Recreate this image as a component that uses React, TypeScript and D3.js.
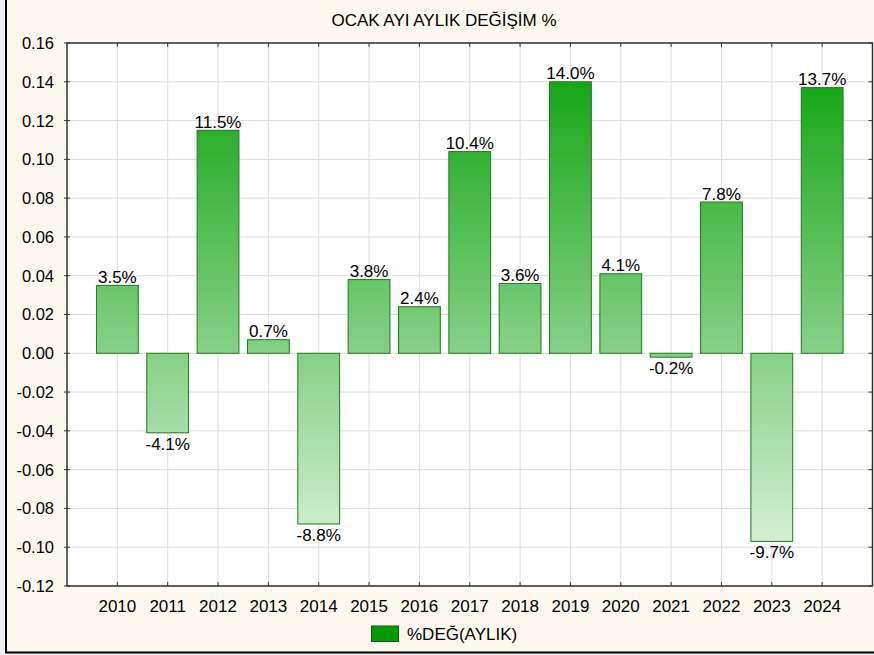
import * as d3 from 'd3';
import React from 'react';

const years = [2010, 2011, 2012, 2013, 2014, 2015, 2016, 2017, 2018, 2019, 2020, 2021, 2022, 2023, 2024];
const changes = [0.035, -0.041, 0.115, 0.007, -0.088, 0.038, 0.024, 0.104, 0.036, 0.140, 0.041, -0.002, 0.078, -0.097, 0.137];
const yTicks = [0.16, 0.14, 0.12, 0.10, 0.08, 0.06, 0.04, 0.02, 0.00, -0.02, -0.04, -0.06, -0.08, -0.10, -0.12];
const title = 'OCAK AYI AYLIK DEĞİŞİM %';
const seriesName = '%DEĞ(AYLIK)';

const W = 874;
const H = 655;
const margin = { top: 43, right: 1.5, bottom: 69, left: 67 };
const font = '"Liberation Sans", Arial, sans-serif';

export default function App() {
  const x = d3.scaleLinear().domain([2009, 2025]).range([margin.left, W - margin.right]);
  const y = d3.scaleLinear().domain([-0.12, 0.16]).range([H - margin.bottom, margin.top]);
  const barW = (x(1) - x(0)) * 0.83;
  const fmtY = (v: number) => d3.format('.2f')(v).replace('−', '-');
  const fmtP = (v: number) => (v * 100).toFixed(1) + '%';
  const x0 = x.range()[0], x1 = x.range()[1];
  const yTop = y(0.16), yBot = y(-0.12);

  return (
    <svg width={W} height={H} style={{ position: 'absolute', left: 0, top: 0 }} fontFamily={font}>
      <defs>
        <linearGradient id="barGrad" gradientUnits="userSpaceOnUse" x1="0" y1={yTop} x2="0" y2={yBot}>
          <stop offset="0" stopColor="#07a007" />
          <stop offset="1" stopColor="#e6f6e6" />
        </linearGradient>
      </defs>
      <rect x={0} y={0} width={W} height={H} fill="#f0f0f0" />
      <rect x={6} y={-5} width={W + 10} height={H - 2 + 5 - 0.5} fill="#fef9ee" stroke="#000" strokeWidth={2} />
      <text x={444} y={26} textAnchor="middle" fontSize={17} fill="#000">{title}</text>

      <rect x={x0} y={yTop} width={x1 - x0} height={yBot - yTop} fill="#fff" />
      {yTicks.map(t => (
        <line key={'gy' + t} x1={x0} x2={x1} y1={y(t)} y2={y(t)} stroke="#dcdcdc" strokeWidth={1} />
      ))}
      {years.map(yr => (
        <line key={'gx' + yr} x1={x(yr)} x2={x(yr)} y1={yTop} y2={yBot} stroke="#dcdcdc" strokeWidth={1} />
      ))}

      {years.map((yr, i) => {
        const v = changes[i];
        const top = y(Math.max(0, v));
        const bot = y(Math.min(0, v));
        return (
          <g key={'b' + yr}>
            <rect x={x(yr) - barW / 2} y={top} width={barW} height={Math.max(1, bot - top)}
              fill="url(#barGrad)" stroke="#1c7a1c" strokeWidth={1} />
            <text x={x(yr)} y={v >= 0 ? top - 2.5 : bot + 17} textAnchor="middle" fontSize={17} fill="#000">
              {fmtP(v)}
            </text>
          </g>
        );
      })}

      <rect x={x0} y={yTop} width={x1 - x0} height={yBot - yTop} fill="none" stroke="#333" strokeWidth={1.5} />
      {yTicks.map(t => (
        <g key={'ty' + t}>
          <line x1={x0 - 3} x2={x0 + 3} y1={y(t)} y2={y(t)} stroke="#333" />
          <line x1={x1 - 4} x2={x1} y1={y(t)} y2={y(t)} stroke="#333" />
          <text x={x0 - 13} y={y(t)} dy="0.36em" textAnchor="end" fontSize={16.5} fill="#000">{fmtY(t)}</text>
        </g>
      ))}
      {years.map(yr => (
        <g key={'tx' + yr}>
          <line x1={x(yr)} x2={x(yr)} y1={yTop} y2={yTop + 4} stroke="#333" />
          <line x1={x(yr)} x2={x(yr)} y1={yBot - 4} y2={yBot} stroke="#333" />
          <text x={x(yr)} y={yBot + 26} textAnchor="middle" fontSize={17} fill="#000">{yr}</text>
        </g>
      ))}

      <rect x={371.5} y={626} width={27} height={15.5} fill="#079a07" stroke="#0b5e0b" strokeWidth={1} />
      <text x={407} y={639.5} fontSize={17} fill="#000">{seriesName}</text>
    </svg>
  );
}
